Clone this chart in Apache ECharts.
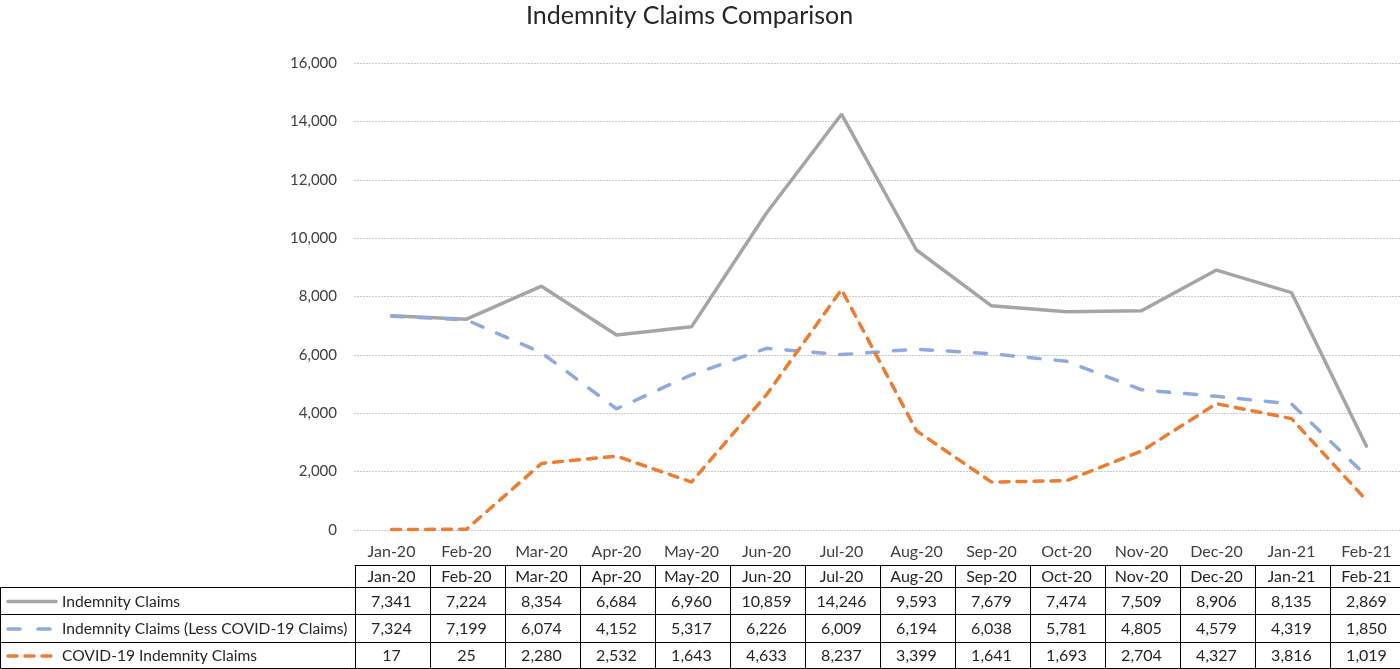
<!DOCTYPE html>
<html>
<head>
<meta charset="utf-8">
<title>Indemnity Claims Comparison</title>
<script src="https://cdn.jsdelivr.net/npm/echarts@6/dist/echarts.min.js"></script>
<style>
    html, body { margin: 0; padding: 0; background: #fff; }
    #mainchart { width: 1400px; height: 669px; }
</style>
</head>
<body>
<div id="mainchart"></div>
<script>
// data
var months = ['Jan-20','Feb-20','Mar-20','Apr-20','May-20','Jun-20','Jul-20','Aug-20','Sep-20','Oct-20','Nov-20','Dec-20','Jan-21','Feb-21'];
var indemnityClaims = [7341, 7224, 8354, 6684, 6960, 10859, 14246, 9593, 7679, 7474, 7509, 8906, 8135, 2869];
var lessCovidClaims = [7324, 7199, 6074, 4152, 5317, 6226, 6009, 6194, 6038, 5781, 4805, 4579, 4319, 1850];
var covidClaims = [17, 25, 2280, 2532, 1643, 4633, 8237, 3399, 1641, 1693, 2704, 4327, 3816, 1019];
var seriesNames = ['Indemnity Claims', 'Indemnity Claims (Less COVID-19 Claims)', 'COVID-19 Indemnity Claims'];
var yTicks = [0, 2000, 4000, 6000, 8000, 10000, 12000, 14000, 16000];

var font = 'Lato, "Open Sans", sans-serif';
var lineStyles = [
    { color: '#A5A5A5', width: 3.5, type: 'solid', cap: 'round' },
    { color: '#8FAADC', width: 3.5, type: [12, 15], cap: 'round' },
    { color: '#ED7D31', width: 3.5, type: [9, 8], cap: 'round' }
];
var allData = [indemnityClaims, lessCovidClaims, covidClaims];

function fmt(v) {
    return Number(v).toLocaleString('en-US');
}

var myChart = echarts.init(document.getElementById('mainchart'));

var series = [];
for (var i = 0; i < allData.length; i++) {
    series.push({
        name: seriesNames[i],
        type: 'line',
        data: allData[i],
        symbol: 'none',
        lineStyle: lineStyles[i],
        silent: true
    });
}

var option = {
    animation: false,
    backgroundColor: '#fff',
    title: {
        text: 'Indemnity Claims Comparison',
        left: 521,
        top: -2,
        textStyle: { fontFamily: font, fontSize: 25, fontWeight: 'normal', color: '#262626' }
    },
    grid: { left: 354, width: 1050, top: 63, bottom: 139, outerBoundsMode: 'none' },
    xAxis: {
        type: 'category',
        data: months,
        boundaryGap: true,
        axisLine: { show: false },
        axisTick: { show: false },
        axisLabel: { fontFamily: font, fontSize: 16, color: '#404040', margin: 14 }
    },
    yAxis: {
        type: 'value',
        min: yTicks[0],
        max: yTicks[yTicks.length - 1],
        interval: yTicks[1] - yTicks[0],
        axisLine: { show: false },
        axisTick: { show: false },
        axisLabel: {
            fontFamily: font, fontSize: 15, color: '#404040', margin: 17,
            formatter: function (v) { return fmt(v); }
        },
        splitLine: { lineStyle: { color: '#C9C9C9', width: 1, type: [2, 1] } }
    },
    series: series
};
myChart.setOption(option);

// data table below the plot, placed on the category axis
var rowLines = [565.5, 587.5, 614.5, 642.5, 668.5];
var tableLeft = 354.5;
var colW = 1050 / months.length;
var tableRight = tableLeft + 1050 - 1;
var g = [];
var black = { stroke: '#000', lineWidth: 1 };

// horizontal lines
g.push({ type: 'line', shape: { x1: tableLeft, y1: rowLines[0], x2: tableRight, y2: rowLines[0] }, style: black });
for (var r = 1; r < rowLines.length; r++) {
    g.push({ type: 'line', shape: { x1: 0.5, y1: rowLines[r], x2: tableRight, y2: rowLines[r] }, style: black });
}
// vertical lines
g.push({ type: 'line', shape: { x1: 0.5, y1: rowLines[1], x2: 0.5, y2: rowLines[4] }, style: black });
for (var c = 0; c <= months.length; c++) {
    var vx = Math.round(tableLeft + c * colW) + 0.5;
    if (c == months.length) vx = tableRight;
    g.push({ type: 'line', shape: { x1: vx, y1: rowLines[0], x2: vx, y2: rowLines[4] }, style: black });
}

// header row and values
for (var m = 0; m < months.length; m++) {
    var cx = myChart.convertToPixel({ xAxisIndex: 0 }, months[m]);
    g.push({
        type: 'text', x: cx, y: (rowLines[0] + rowLines[1]) / 2,
        style: { text: months[m], font: '16px ' + font, fill: '#262626', align: 'center', verticalAlign: 'middle' }
    });
    for (var s = 0; s < allData.length; s++) {
        g.push({
            type: 'text', x: cx, y: (rowLines[s + 1] + rowLines[s + 2]) / 2 + 0.5,
            style: { text: fmt(allData[s][m]), font: '16px ' + font, fill: '#262626', align: 'center', verticalAlign: 'middle' }
        });
    }
}

// row headers with line keys
for (var k = 0; k < seriesNames.length; k++) {
    var cy = (rowLines[k + 1] + rowLines[k + 2]) / 2 + 0.5;
    var ls = lineStyles[k];
    var dash = ls.type == 'solid' ? null : (k == 1 ? [12, 18] : [9, 8]);
    g.push({
        type: 'line', shape: { x1: 8, y1: cy, x2: 56, y2: cy },
        style: { stroke: ls.color, lineWidth: 3.5, lineDash: dash, lineCap: 'round' }
    });
    g.push({
        type: 'text', x: 62, y: cy,
        style: { text: seriesNames[k], font: '15.6px ' + font, fill: '#262626', align: 'left', verticalAlign: 'middle' }
    });
}

myChart.setOption({ graphic: { elements: g } });
</script>
</body>
</html>
